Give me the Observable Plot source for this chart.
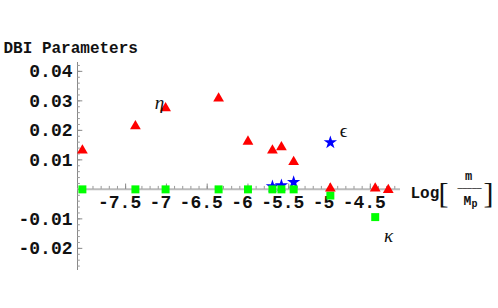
<!DOCTYPE html>
<html><head><meta charset="utf-8">
<script src="https://cdn.jsdelivr.net/npm/d3@7"></script>
<script src="https://cdn.jsdelivr.net/npm/@observablehq/plot@0.6"></script>
<style>
body{margin:0;background:#fff}
g[aria-label="title"] text{letter-spacing:0.6px}
</style>
</head><body><div id="chart"></div>
<script>
// Data
const logm    = [-8.03, -7.38, -7.01, -6.36, -6.00, -5.70, -5.59, -5.44, -4.99, -4.44, -4.28];
const eta     = [0.0132, 0.0214, 0.0275, 0.0308, 0.0162, 0.0132, 0.0143, 0.0093, 0.0003, 0.0003, -0.0002];
const epsilon = [null, null, null, null, null, 0.0010, 0.0013, 0.0024, 0.0159, null, null];
const kappa   = [0, 0, 0, 0, 0, 0, 0, 0, -0.0021, -0.0094, null];

const xTicks = [-7.5, -7, -6.5, -6, -5.5, -5, -4.5];
const xTickLabels = ["-7.5", "-7", "-6.5", "-6", "-5.5", "-5", "-4.5"];
const yTicks = [-0.02, -0.01, 0.01, 0.02, 0.03, 0.04];
const yTickLabels = ["-0.02", "-0.01", "0.01", "0.02", "0.03", "0.04"];

const xDomain = [-8.09, -4.13];
const yDomain = [-0.0275, 0.043];
const xMinor = d3.range(-80, -41).map(d => d / 10);
const yMinor = d3.range(-13, 22).map(d => d * 0.002);

const rows = logm.map((x, i) => ({x, eta: eta[i], eps: epsilon[i], kappa: kappa[i]}));
const mono = "'Liberation Mono', 'DejaVu Sans Mono', monospace";
const serif = "'Liberation Serif', 'DejaVu Serif', serif";
const lbl = {frameAnchor: "top-left", textAnchor: "middle", lineAnchor: "middle", fontSize: 19, fontFamily: serif, fill: "#111"};
const ax = {x: xDomain[1], y: 0, fill: "#111", lineAnchor: "middle"};

const chart = Plot.plot({
  width: 498, height: 308,
  marginLeft: 77, marginRight: 98, marginTop: 62, marginBottom: 38,
  x: {domain: xDomain, axis: null},
  y: {domain: yDomain, axis: null},
  style: {background: "#fff"},
  marks: [
    Plot.ruleX([xDomain[0]], {stroke: "#888", strokeWidth: 1}),
    Plot.ruleY([0], {stroke: "#bbb", strokeWidth: 2}),
    Plot.ruleX(xMinor, {y1: 0, y2: 0.001, stroke: "#999"}),
    Plot.ruleX(xTicks, {y1: 0, y2: 0.0018, stroke: "#888"}),
    Plot.ruleY(yMinor, {x1: xDomain[0], x2: xDomain[0] + 0.035, stroke: "#999"}),
    Plot.ruleY(yTicks, {x1: xDomain[0], x2: xDomain[0] + 0.065, stroke: "#888"}),
    Plot.text(xTicks, {x: d => d, y: 0, text: (d, i) => xTickLabels[i], dy: 13, dx: -6,
      fontSize: 18, fontWeight: "bold", fontFamily: mono, fill: "#111"}),
    Plot.text(yTicks, {x: xDomain[0], y: d => d, text: (d, i) => yTickLabels[i], textAnchor: "end", dx: -5,
      fontSize: 18, fontWeight: "bold", fontFamily: mono, fill: "#111"}),
    Plot.dot(rows.filter(d => d.eps != null), {x: "x", y: "eps", symbol: "star", fill: "#0000ff", r: 4.2}),
    Plot.dot(rows.filter(d => d.kappa != null), {x: "x", y: "kappa", symbol: "square", fill: "#00ff00", r: 4.5}),
    Plot.dot(rows, {x: "x", y: "eta", symbol: "triangle", fill: "#ff0000", r: 4}),
    // title
    Plot.text(["DBI Parameters"], {frameAnchor: "top-left", textAnchor: "start", lineAnchor: "middle", dx: -74, dy: -15,
      fontSize: 16, fontWeight: "bold", fontFamily: mono, fill: "#111", ariaLabel: "title"}),
    // series labels
    Plot.text(["η"], {...lbl, dx: 82, dy: 40, fontStyle: "italic"}),
    Plot.text(["ϵ"], {...lbl, dx: 266, dy: 68}),
    Plot.text(["κ"], {...lbl, dx: 311, dy: 173, fontStyle: "italic"}),
    // x axis label Log[m / Mp]
    Plot.text(["Log"], {...ax, textAnchor: "start", dx: 10, dy: 4, fontSize: 16, fontWeight: "bold", fontFamily: mono}),
    Plot.text(["["], {...ax, dx: 43, dy: 4, fontSize: 30, fontFamily: serif}),
    Plot.text(["m"], {...ax, dx: 68, dy: -13, fontSize: 12, fontWeight: "bold", fontFamily: mono}),
    Plot.text(["─────"], {...ax, dx: 69, dy: -1, fontSize: 8, fontFamily: "'DejaVu Sans Mono', monospace"}),
    Plot.text(["M"], {...ax, dx: 67, dy: 11, fontSize: 13, fontWeight: "bold", fontFamily: mono}),
    Plot.text(["p"], {...ax, dx: 74, dy: 14, fontSize: 10, fontWeight: "bold", fontFamily: mono}),
    Plot.text(["]"], {...ax, dx: 88, dy: 4, fontSize: 30, fontFamily: serif})
  ]
});
document.getElementById("chart").append(chart);
</script>
</body></html>
